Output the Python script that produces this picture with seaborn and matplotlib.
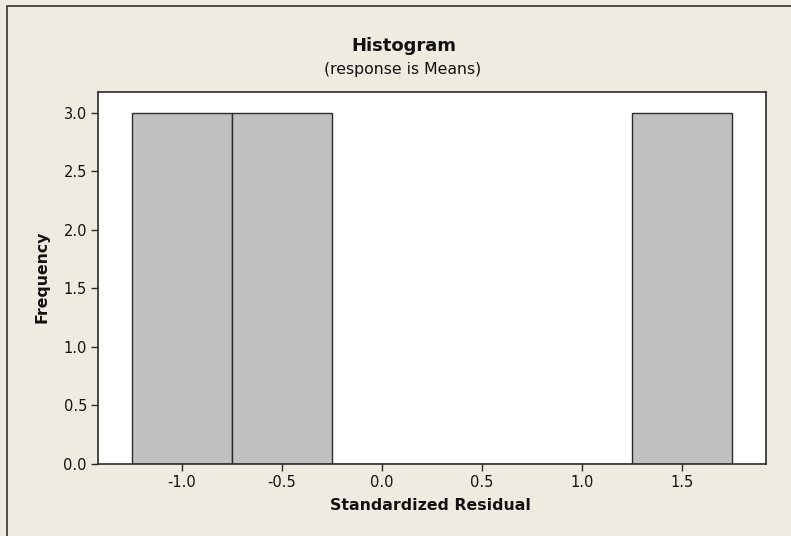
import matplotlib
matplotlib.use('Agg')
import matplotlib.pyplot as plt
import matplotlib.patches as patches
import seaborn as sns

# Standardized residuals (3 per occupied bin)
residuals = [-1.10, -1.00, -0.90, -0.60, -0.50, -0.40, 1.40, 1.50, 1.60]
bin_edges = [-1.25, -0.75, -0.25, 0.25, 0.75, 1.25, 1.75]
x_ticks = [-1.0, -0.5, 0.0, 0.5, 1.0, 1.5]
y_ticks = [0.0, 0.5, 1.0, 1.5, 2.0, 2.5, 3.0]

BG = '#EFEBE1'
BAR = '#C0C0C0'
EDGE = '#2B2B2B'

sns.set_style('white')
plt.rcParams['font.family'] = ['DejaVu Sans']

fig = plt.figure(figsize=(7.91, 5.36), dpi=100, facecolor=BG)
ax = fig.add_axes([98 / 791, 1 - 463.5 / 536, 668 / 791, 372 / 536])
ax.set_facecolor('white')

sns.histplot(x=residuals, bins=bin_edges, stat='count', color=BAR, alpha=1,
             edgecolor=EDGE, linewidth=1.0, ax=ax)

ax.set_xlim(-1.418, 1.918)
ax.set_ylim(0, 3.184)
ax.set_xticks(x_ticks)
ax.set_xticklabels([f'{v:.1f}' for v in x_ticks])
ax.set_yticks(y_ticks)
ax.set_yticklabels([f'{v:.1f}' for v in y_ticks])
ax.tick_params(axis='both', direction='out', length=5, width=1, color=EDGE,
               labelsize=10.5, labelcolor='#111111', pad=3)
ax.tick_params(axis='both', bottom=True, left=True)

for s in ax.spines.values():
    s.set_visible(True)
    s.set_color(EDGE)
    s.set_linewidth(1.2)

ax.set_xlabel('')
ax.set_ylabel('')
fig.text(430 / 791, 1 - 505 / 536, 'Standardized Residual', ha='center', va='center',
         fontsize=11.3, fontweight='bold', color='#111111')
fig.text(42 / 791, 1 - 277 / 536, 'Frequency', ha='center', va='center', rotation=90,
         fontsize=11.3, fontweight='bold', color='#111111')

fig.text(404 / 791, 1 - 46 / 536, 'Histogram', ha='center', va='center',
         fontsize=13, fontweight='bold', color='#111111')
fig.text(403 / 791, 1 - 69 / 536, '(response is Means)', ha='center', va='center',
         fontsize=11.3, color='#111111')

# outer frame, only left and top edges fall inside the image
frame = patches.Rectangle((7 / 791, -0.05), 1.1, 1 - 6 / 536 + 0.05,
                          transform=fig.transFigure, fill=False,
                          edgecolor='#333333', linewidth=1.2)
fig.patches.append(frame)

fig.savefig('out.png', dpi=100, facecolor=BG)
